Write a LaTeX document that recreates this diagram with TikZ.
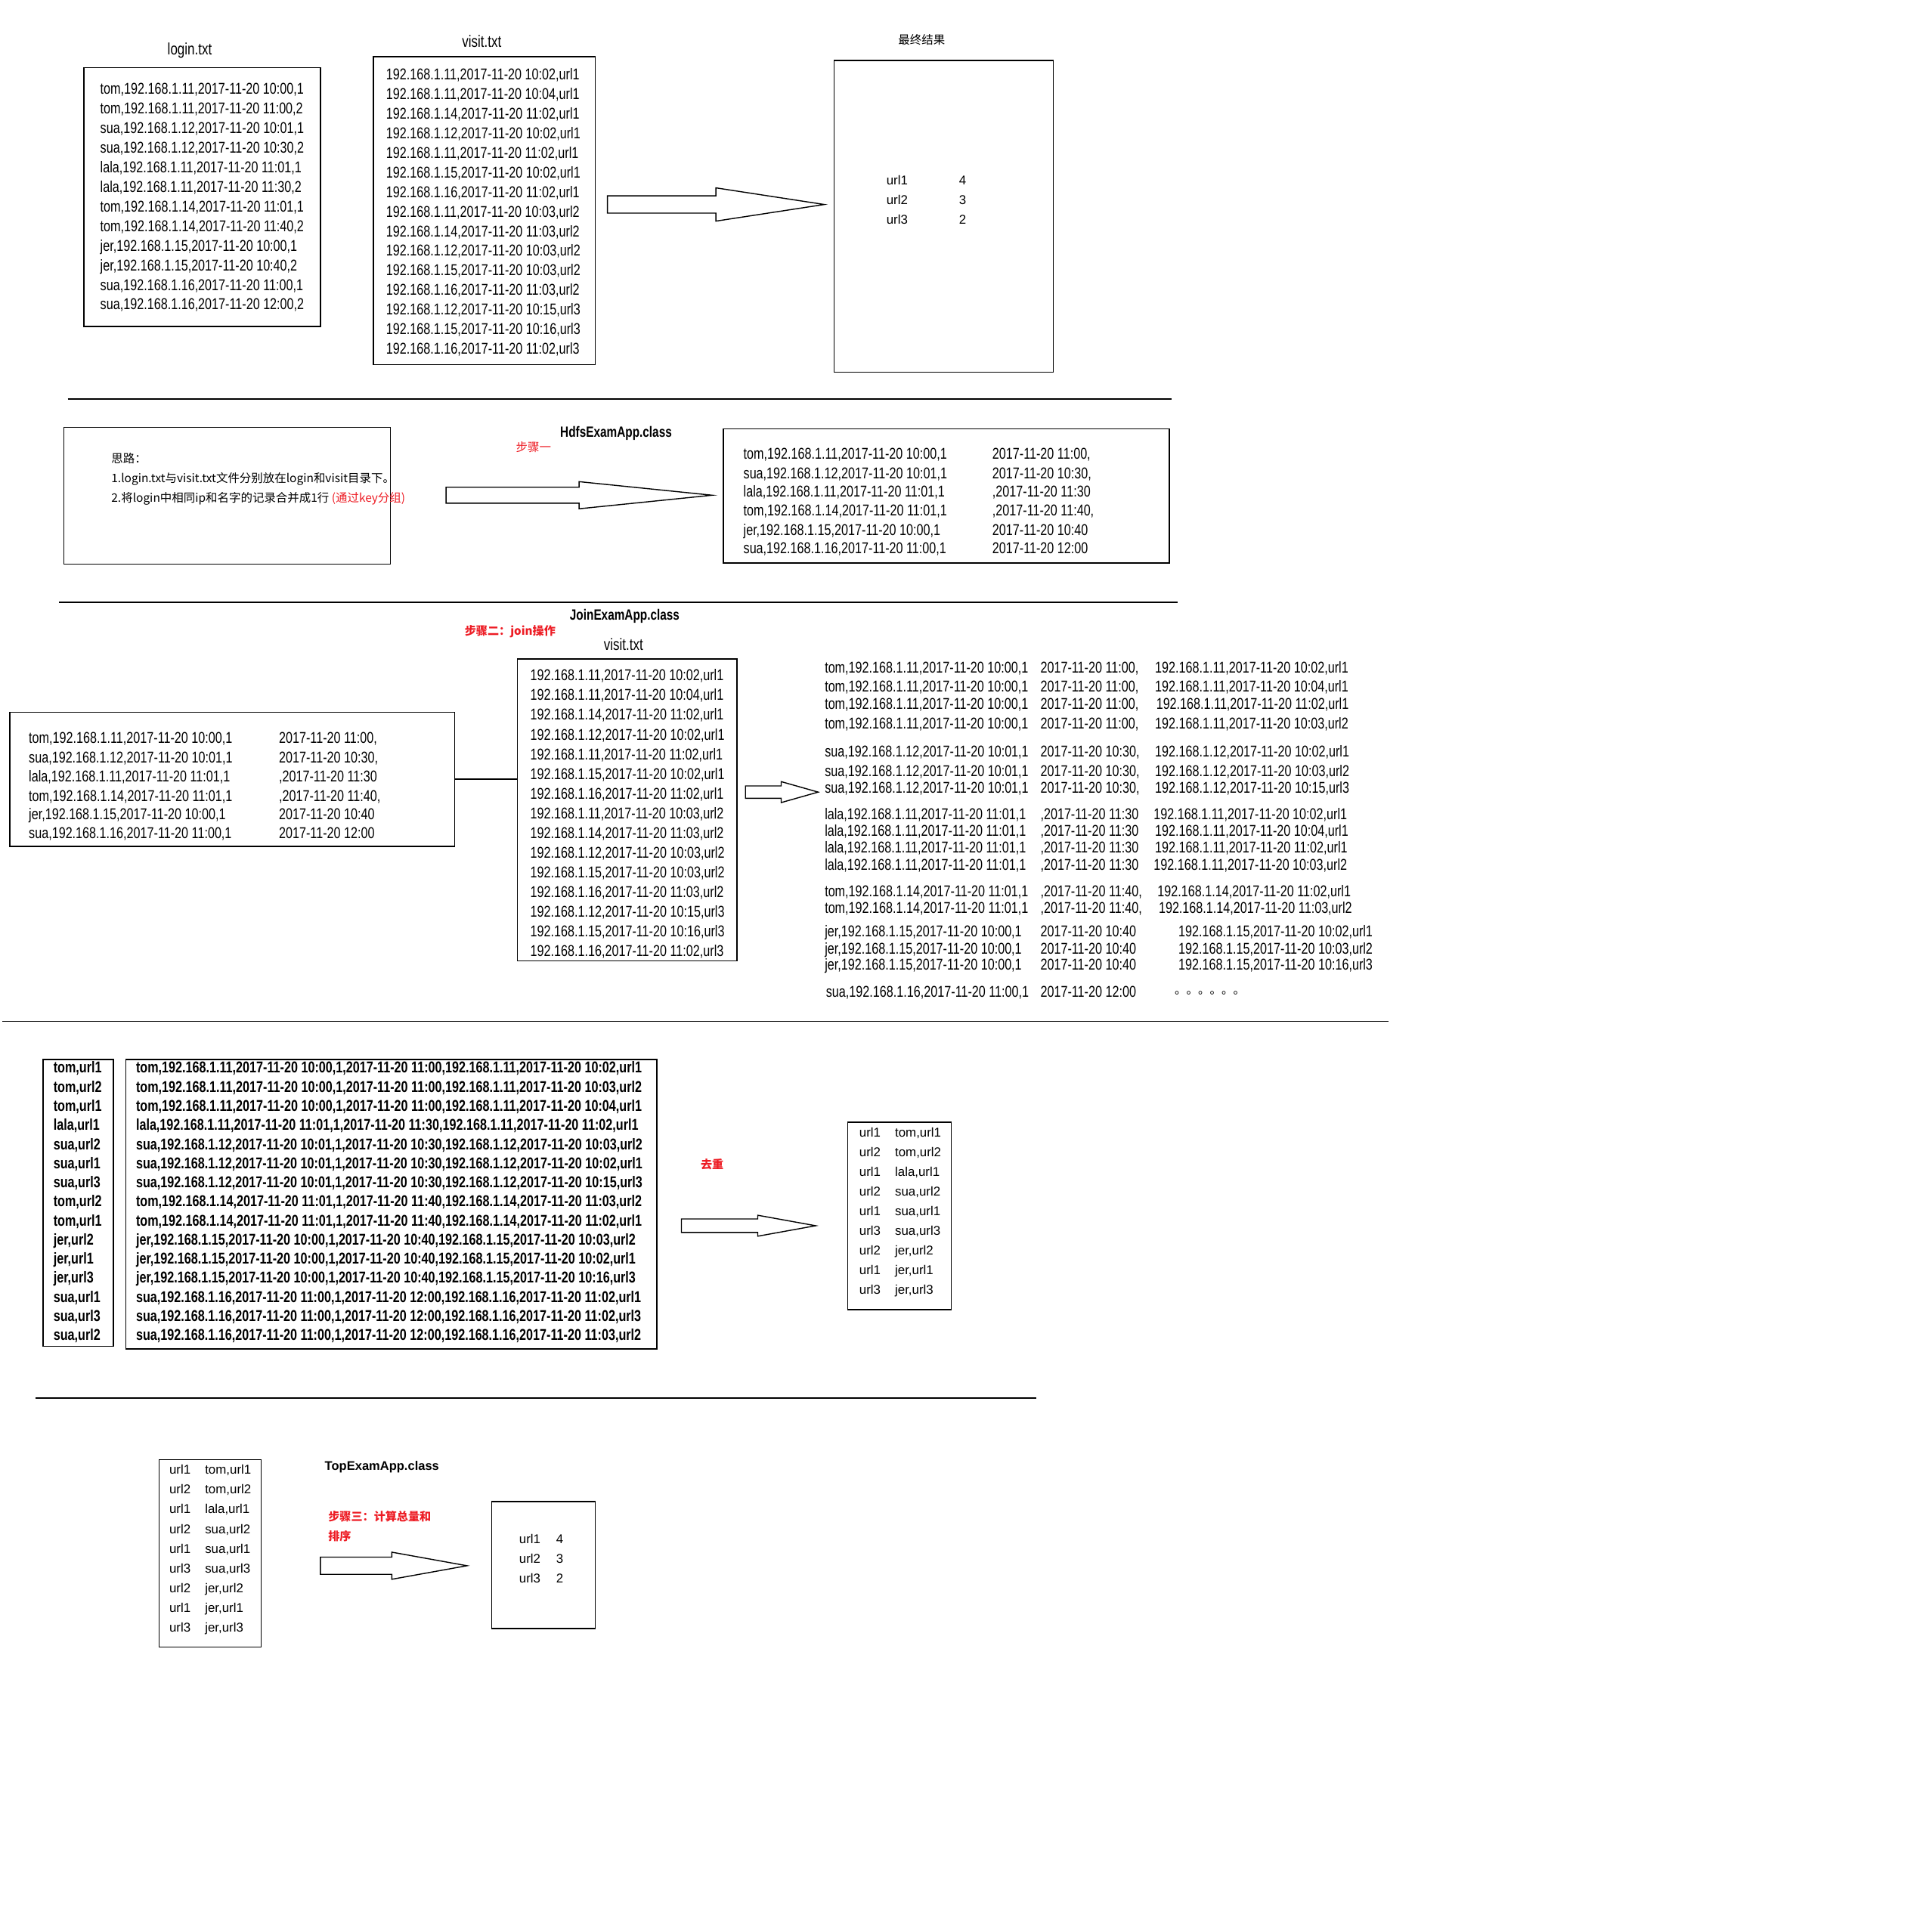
\documentclass[tikz,border=0pt]{standalone}
\usepackage{fontspec}
\setmainfont{Liberation Sans}
\newfontfamily\datafont{Liberation Sans}[FakeStretch=0.78]
\newfontfamily\cjk{Noto Sans CJK SC}
\usetikzlibrary{fit}
\definecolor{paintred}{HTML}{ED1C24}

\begin{document}
\begin{tikzpicture}[
  x=0.163mm, y=-0.163mm,
  filebox/.style={draw=black, line width=0.4pt, inner sep=0pt},
  datarow/.style={font=\datafont\fontsize{5.9}{7}\selectfont, inner sep=0pt,
    anchor=west, text height=4.25pt, text depth=0pt},
  boldrow/.style={datarow, font=\datafont\bfseries\fontsize{5.9}{7}\selectfont},
  urlrow/.style={font=\fontsize{4.8}{6}\selectfont, inner sep=0pt,
    anchor=west, text height=3.45pt, text depth=0pt},
  cjkrow/.style={font=\cjk\fontsize{4.4}{5}\selectfont, inner sep=0pt,
    anchor=west, text height=3.35pt, text depth=0pt},
  filelabel/.style={datarow, anchor=center, font=\datafont\fontsize{6.2}{7}\selectfont},
  classname/.style={datarow, anchor=center, font=\datafont\bfseries\fontsize{5.6}{7}\selectfont},
  stepnote/.style={cjkrow, text=paintred},
  sep/.style={line width=0.4pt},
  bigarrow/.style={draw=black, line width=0.4pt, fill=white},
]
\useasboundingbox (0,0) rectangle (1568,1559);

% === input files and final result ===
\node[filelabel] (logintitle) at (154,40) {login.txt};
\node[filebox, fit={(68,55)(260,265)}] (login) {};
\foreach \rec [count=\i] in {{tom,192.168.1.11,2017-11-20 10:00,1},{tom,192.168.1.11,2017-11-20 11:00,2},
  {sua,192.168.1.12,2017-11-20 10:01,1},{sua,192.168.1.12,2017-11-20 10:30,2},
  {lala,192.168.1.11,2017-11-20 11:01,1},{lala,192.168.1.11,2017-11-20 11:30,2},
  {tom,192.168.1.14,2017-11-20 11:01,1},{tom,192.168.1.14,2017-11-20 11:40,2},
  {jer,192.168.1.15,2017-11-20 10:00,1},{jer,192.168.1.15,2017-11-20 10:40,2},
  {sua,192.168.1.16,2017-11-20 11:00,1},{sua,192.168.1.16,2017-11-20 12:00,2}}
  \node[datarow] (login-\i) at (81,{72+15.9*(\i-1)}) {\rec};

\node[filelabel] (visittitle) at (391,34) {visit.txt};
\node[filebox, fit={(303,46)(483,296)}] (visit) {};
\foreach \rec [count=\i] in {{192.168.1.11,2017-11-20 10:02,url1},{192.168.1.11,2017-11-20 10:04,url1},
  {192.168.1.14,2017-11-20 11:02,url1},{192.168.1.12,2017-11-20 10:02,url1},
  {192.168.1.11,2017-11-20 11:02,url1},{192.168.1.15,2017-11-20 10:02,url1},
  {192.168.1.16,2017-11-20 11:02,url1},{192.168.1.11,2017-11-20 10:03,url2},
  {192.168.1.14,2017-11-20 11:03,url2},{192.168.1.12,2017-11-20 10:03,url2},
  {192.168.1.15,2017-11-20 10:03,url2},{192.168.1.16,2017-11-20 11:03,url2},
  {192.168.1.12,2017-11-20 10:15,url3},{192.168.1.15,2017-11-20 10:16,url3},
  {192.168.1.16,2017-11-20 11:02,url3}}
  \node[datarow] (visit-\i) at (313,{60+15.93*(\i-1)}) {\rec};

\node[cjkrow, anchor=center] (resulttitle) at (748,32) {最终结果};
\node[filebox, fit={(677,49)(855,302)}] (result) {};
\foreach \u/\n [count=\i] in {url1/4, url2/3, url3/2} {
  \node[urlrow] (result-u\i) at (719,{146+16*(\i-1)}) {\u};
  \node[urlrow] (result-n\i) at (778,{146+16*(\i-1)}) {\n};
}

\draw[sep] (55,324) -- (951,324);

% === step one: group login records ===
\node[filebox, fit={(52,347)(317,458)}] (idea) {};
\node[cjkrow] (idea-0) at (90,372) {思路：};
\node[cjkrow] (idea-1) at (90,388) {1.login.txt与visit.txt文件分别放在login和visit目录下。};
\node[cjkrow] (idea-2) at (90,404) {2.将login中相同ip和名字的记录合并成1行 \textcolor{paintred}{(通过key分组)}};

\node[classname] (hdfsclass) at (500,350) {HdfsExamApp.class};
\node[stepnote, anchor=center] (step1) at (433,363) {步骤一};

\node[filebox, fit={(587,348)(949,457)}] (grouped) {};
\foreach \y/\a/\b [count=\i] in {368/{tom,192.168.1.11,2017-11-20 10:00,1}/{2017-11-20 11:00,},
  384/{sua,192.168.1.12,2017-11-20 10:01,1}/{2017-11-20 10:30,},
  399/{lala,192.168.1.11,2017-11-20 11:01,1}/{,2017-11-20 11:30},
  414/{tom,192.168.1.14,2017-11-20 11:01,1}/{,2017-11-20 11:40,},
  430/{jer,192.168.1.15,2017-11-20 10:00,1}/{2017-11-20 10:40},
  445/{sua,192.168.1.16,2017-11-20 11:00,1}/{2017-11-20 12:00}} {
  \node[datarow] (grouped-a\i) at (603,\y) {\a};
  \node[datarow] (grouped-b\i) at (805,\y) {\b};
}

\draw[sep] (48,489) -- (956,489);

% === step two: join ===
\node[classname] (joinclass) at (507,499) {JoinExamApp.class};
\node[stepnote, anchor=center, font=\cjk\bfseries\fontsize{4.3}{5}\selectfont] (step2) at (414,512) {步骤二：join操作};

\node[filebox, fit={(8,578)(369,687)}] (joined) {};
\foreach \y/\a/\b [count=\i] in {599/{tom,192.168.1.11,2017-11-20 10:00,1}/{2017-11-20 11:00,},
  615/{sua,192.168.1.12,2017-11-20 10:01,1}/{2017-11-20 10:30,},
  630/{lala,192.168.1.11,2017-11-20 11:01,1}/{,2017-11-20 11:30},
  646/{tom,192.168.1.14,2017-11-20 11:01,1}/{,2017-11-20 11:40,},
  661/{jer,192.168.1.15,2017-11-20 10:00,1}/{2017-11-20 10:40},
  676/{sua,192.168.1.16,2017-11-20 11:00,1}/{2017-11-20 12:00}} {
  \node[datarow] (joined-a\i) at (23,\y) {\a};
  \node[datarow] (joined-b\i) at (226,\y) {\b};
}

\node[filelabel] (visitbtitle) at (506,523) {visit.txt};
\node[filebox, fit={(420,535)(598,780)}] (visitb) {};
\foreach \rec [count=\i] in {{192.168.1.11,2017-11-20 10:02,url1},{192.168.1.11,2017-11-20 10:04,url1},
  {192.168.1.14,2017-11-20 11:02,url1},{192.168.1.12,2017-11-20 10:02,url1},
  {192.168.1.11,2017-11-20 11:02,url1},{192.168.1.15,2017-11-20 10:02,url1},
  {192.168.1.16,2017-11-20 11:02,url1},{192.168.1.11,2017-11-20 10:03,url2},
  {192.168.1.14,2017-11-20 11:03,url2},{192.168.1.12,2017-11-20 10:03,url2},
  {192.168.1.15,2017-11-20 10:03,url2},{192.168.1.16,2017-11-20 11:03,url2},
  {192.168.1.12,2017-11-20 10:15,url3},{192.168.1.15,2017-11-20 10:16,url3},
  {192.168.1.16,2017-11-20 11:02,url3}}
  \node[datarow] (visitb-\i) at (430,{548+16*(\i-1)}) {\rec};

\draw[sep] (joined.east) -- (joined.east -| visitb.west);

% joined rows (no box)
\foreach \y/\a/\b/\c/\xc [count=\i] in {
  542/{tom,192.168.1.11,2017-11-20 10:00,1}/{2017-11-20 11:00,}/{192.168.1.11,2017-11-20 10:02,url1}/937,
  557/{tom,192.168.1.11,2017-11-20 10:00,1}/{2017-11-20 11:00,}/{192.168.1.11,2017-11-20 10:04,url1}/937,
  571/{tom,192.168.1.11,2017-11-20 10:00,1}/{2017-11-20 11:00,}/{192.168.1.11,2017-11-20 11:02,url1}/938,
  587/{tom,192.168.1.11,2017-11-20 10:00,1}/{2017-11-20 11:00,}/{192.168.1.11,2017-11-20 10:03,url2}/937,
  610/{sua,192.168.1.12,2017-11-20 10:01,1}/{2017-11-20 10:30,}/{192.168.1.12,2017-11-20 10:02,url1}/937,
  626/{sua,192.168.1.12,2017-11-20 10:01,1}/{2017-11-20 10:30,}/{192.168.1.12,2017-11-20 10:03,url2}/937,
  639/{sua,192.168.1.12,2017-11-20 10:01,1}/{2017-11-20 10:30,}/{192.168.1.12,2017-11-20 10:15,url3}/937,
  661/{lala,192.168.1.11,2017-11-20 11:01,1}/{,2017-11-20 11:30}/{192.168.1.11,2017-11-20 10:02,url1}/936,
  674/{lala,192.168.1.11,2017-11-20 11:01,1}/{,2017-11-20 11:30}/{192.168.1.11,2017-11-20 10:04,url1}/937,
  688/{lala,192.168.1.11,2017-11-20 11:01,1}/{,2017-11-20 11:30}/{192.168.1.11,2017-11-20 11:02,url1}/937,
  702/{lala,192.168.1.11,2017-11-20 11:01,1}/{,2017-11-20 11:30}/{192.168.1.11,2017-11-20 10:03,url2}/936,
  723/{tom,192.168.1.14,2017-11-20 11:01,1}/{,2017-11-20 11:40,}/{192.168.1.14,2017-11-20 11:02,url1}/939,
  737/{tom,192.168.1.14,2017-11-20 11:01,1}/{,2017-11-20 11:40,}/{192.168.1.14,2017-11-20 11:03,url2}/940,
  756/{jer,192.168.1.15,2017-11-20 10:00,1}/{2017-11-20 10:40}/{192.168.1.15,2017-11-20 10:02,url1}/956,
  770/{jer,192.168.1.15,2017-11-20 10:00,1}/{2017-11-20 10:40}/{192.168.1.15,2017-11-20 10:03,url2}/956,
  783/{jer,192.168.1.15,2017-11-20 10:00,1}/{2017-11-20 10:40}/{192.168.1.15,2017-11-20 10:16,url3}/956} {
  \node[datarow] (pair-a\i) at (669,\y) {\a};
  \node[datarow] (pair-b\i) at (844,\y) {\b};
  \node[datarow] (pair-c\i) at (\xc,\y) {\c};
}
\node[datarow] (pair-a17) at (670,805) {sua,192.168.1.16,2017-11-20 11:00,1};
\node[datarow] (pair-b17) at (844,805) {2017-11-20 12:00};
\node[cjkrow, font=\cjk\fontsize{4.4}{5}\selectfont, text height=0pt] (pair-more) at (953,807) {。。。。。。};

\draw[sep] (2,829) -- (1127,829);

% === dedupe ===
\node[filebox, fit={(35,860)(92,1093)}] (keys) {};
\node[filebox, fit={(102,860)(533,1095)}] (records) {};
\foreach \k/\rec [count=\i] in {
  {tom,url1}/{tom,192.168.1.11,2017-11-20 10:00,1,2017-11-20 11:00,192.168.1.11,2017-11-20 10:02,url1},
  {tom,url2}/{tom,192.168.1.11,2017-11-20 10:00,1,2017-11-20 11:00,192.168.1.11,2017-11-20 10:03,url2},
  {tom,url1}/{tom,192.168.1.11,2017-11-20 10:00,1,2017-11-20 11:00,192.168.1.11,2017-11-20 10:04,url1},
  {lala,url1}/{lala,192.168.1.11,2017-11-20 11:01,1,2017-11-20 11:30,192.168.1.11,2017-11-20 11:02,url1},
  {sua,url2}/{sua,192.168.1.12,2017-11-20 10:01,1,2017-11-20 10:30,192.168.1.12,2017-11-20 10:03,url2},
  {sua,url1}/{sua,192.168.1.12,2017-11-20 10:01,1,2017-11-20 10:30,192.168.1.12,2017-11-20 10:02,url1},
  {sua,url3}/{sua,192.168.1.12,2017-11-20 10:01,1,2017-11-20 10:30,192.168.1.12,2017-11-20 10:15,url3},
  {tom,url2}/{tom,192.168.1.14,2017-11-20 11:01,1,2017-11-20 11:40,192.168.1.14,2017-11-20 11:03,url2},
  {tom,url1}/{tom,192.168.1.14,2017-11-20 11:01,1,2017-11-20 11:40,192.168.1.14,2017-11-20 11:02,url1},
  {jer,url2}/{jer,192.168.1.15,2017-11-20 10:00,1,2017-11-20 10:40,192.168.1.15,2017-11-20 10:03,url2},
  {jer,url1}/{jer,192.168.1.15,2017-11-20 10:00,1,2017-11-20 10:40,192.168.1.15,2017-11-20 10:02,url1},
  {jer,url3}/{jer,192.168.1.15,2017-11-20 10:00,1,2017-11-20 10:40,192.168.1.15,2017-11-20 10:16,url3},
  {sua,url1}/{sua,192.168.1.16,2017-11-20 11:00,1,2017-11-20 12:00,192.168.1.16,2017-11-20 11:02,url1},
  {sua,url3}/{sua,192.168.1.16,2017-11-20 11:00,1,2017-11-20 12:00,192.168.1.16,2017-11-20 11:02,url3},
  {sua,url2}/{sua,192.168.1.16,2017-11-20 11:00,1,2017-11-20 12:00,192.168.1.16,2017-11-20 11:03,url2}} {
  \node[boldrow] (keys-\i) at (43,{866.5+15.5*(\i-1)}) {\k};
  \node[boldrow] (records-\i) at (110,{866.5+15.5*(\i-1)}) {\rec};
}

\node[stepnote, anchor=center, font=\cjk\bfseries\fontsize{4.3}{5}\selectfont] (dedupnote) at (578,945) {去重};

\node[filebox, fit={(688,911)(772,1063)}] (unique) {};
\foreach \u/\k [count=\i] in {url1/{tom,url1}, url2/{tom,url2}, url1/{lala,url1}, url2/{sua,url2},
  url1/{sua,url1}, url3/{sua,url3}, url2/{jer,url2}, url1/{jer,url1}, url3/{jer,url3}} {
  \node[urlrow] (unique-u\i) at (697,{919+16*(\i-1)}) {\u};
  \node[urlrow] (unique-k\i) at (726,{919+16*(\i-1)}) {\k};
}

\draw[sep] (29,1135) -- (841,1135);

% === step three: count and sort ===
\node[filebox, fit={(129,1185)(212,1337)}] (uniqueb) {};
\foreach \u/\k [count=\i] in {url1/{tom,url1}, url2/{tom,url2}, url1/{lala,url1}, url2/{sua,url2},
  url1/{sua,url1}, url3/{sua,url3}, url2/{jer,url2}, url1/{jer,url1}, url3/{jer,url3}} {
  \node[urlrow] (uniqueb-u\i) at (137,{1193+16*(\i-1)}) {\u};
  \node[urlrow] (uniqueb-k\i) at (166,{1193+16*(\i-1)}) {\k};
}

\node[classname, font=\bfseries\fontsize{4.7}{6}\selectfont] (topclass) at (310,1189) {TopExamApp.class};
\node[stepnote, font=\cjk\bfseries\fontsize{4.3}{5}\selectfont] (step3) at (266,1231) {步骤三：计算总量和};
\node[stepnote, font=\cjk\bfseries\fontsize{4.3}{5}\selectfont] (step3b) at (266,1247) {排序};

\node[filebox, fit={(399,1219)(483,1322)}] (top) {};
\foreach \u/\n [count=\i] in {url1/4, url2/3, url3/2} {
  \node[urlrow] (top-u\i) at (421,{1249+16*(\i-1)}) {\u};
  \node[urlrow] (top-n\i) at (451,{1249+16*(\i-1)}) {\n};
}

% block arrows between the stages
\foreach \xa/\xb/\xc/\yc/\sh/\hh in {493/581/669/166/7/13.5, 362/470/578/402/6.5/11,
  605/634/664/643/5/8.5, 553/615/662/995/5.5/8.5, 260/318/379/1271/7/11}
  \draw[bigarrow] (\xa,{\yc-\sh}) -- (\xb,{\yc-\sh}) -- (\xb,{\yc-\hh}) -- (\xc,\yc)
    -- (\xb,{\yc+\hh}) -- (\xb,{\yc+\sh}) -- (\xa,{\yc+\sh}) -- cycle;

\end{tikzpicture}
\end{document}
